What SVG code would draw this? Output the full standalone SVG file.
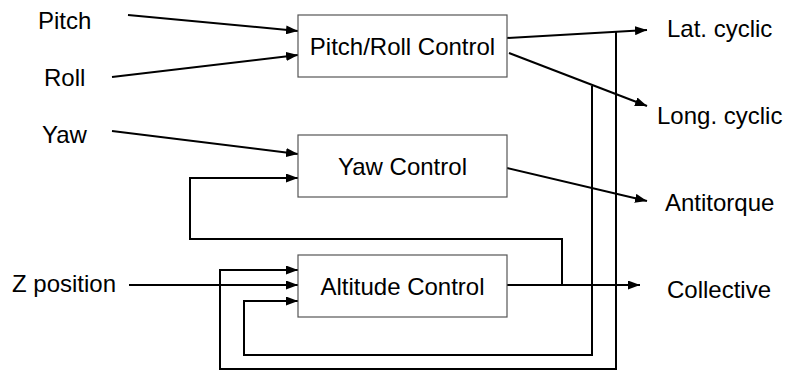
<svg xmlns="http://www.w3.org/2000/svg" width="785" height="372" viewBox="0 0 785 372">
<style>
text{font-family:"Liberation Sans",Arial,sans-serif;font-size:24px;fill:#000}
.box{fill:#fff;stroke:#555;stroke-width:1.2}
.c{fill:none;stroke:#000;stroke-width:2}
.a{marker-end:url(#ah)}
</style>
<defs>
<marker id="ah" markerUnits="userSpaceOnUse" markerWidth="12" markerHeight="9" refX="12" refY="4.5" orient="auto">
<path d="M0,0 L12,4.5 L0,9 Z" fill="#000"/>
</marker>
</defs>
<g id="connectors">
<path class="c a" d="M128,15 L298,31"/>
<path class="c a" d="M112,77 L298,55"/>
<path class="c a" d="M112,131 L298,154"/>
<path class="c a" d="M562,285 L562,239 L190,239 L190,178 L298,178"/>
<path class="c a" d="M129,285 L298,285"/>
<path class="c a" d="M616,31.5 L616,369 L220,369 L220,270 L298,270"/>
<path class="c a" d="M592,86 L592,355 L244,355 L244,301 L298,301"/>
<path class="c a" d="M507,38 L647,30"/>
<path class="c a" d="M509,53 L647,106"/>
<path class="c a" d="M507,168 L647,201"/>
<path class="c a" d="M507,285 L640,285"/>
</g>
<g id="pitch-roll-control">
<rect class="box" x="298" y="15" width="209" height="62"/>
<text x="402.5" y="55" text-anchor="middle">Pitch/Roll Control</text>
</g>
<g id="yaw-control">
<rect class="box" x="298" y="135" width="209" height="62"/>
<text x="402.5" y="175" text-anchor="middle">Yaw Control</text>
</g>
<g id="altitude-control">
<rect class="box" x="298" y="255" width="209" height="62"/>
<text x="402.5" y="295" text-anchor="middle">Altitude Control</text>
</g>
<g id="inputs">
<text x="38" y="29">Pitch</text>
<text x="44" y="86">Roll</text>
<text x="42" y="143">Yaw</text>
<text x="12" y="292">Z position</text>
</g>
<g id="outputs">
<text x="667" y="37">Lat. cyclic</text>
<text x="657" y="124">Long. cyclic</text>
<text x="665" y="211">Antitorque</text>
<text x="667" y="298">Collective</text>
</g>
</svg>
